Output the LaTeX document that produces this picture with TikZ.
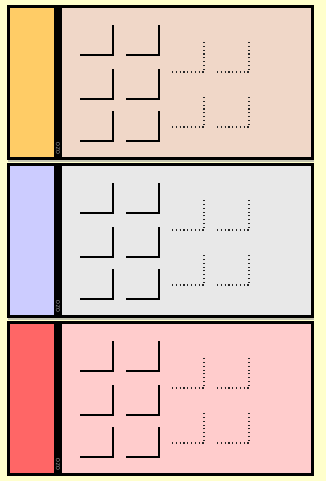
\documentclass[tikz,border=0pt]{standalone}
\usepackage{tikz}

\definecolor{bgyellow}{HTML}{FFFFCC}
\definecolor{stripA}{HTML}{FFCC66}
\definecolor{mainA}{HTML}{F0D7C8}
\definecolor{stripB}{HTML}{CCCCFF}
\definecolor{mainB}{HTML}{E8E8E8}
\definecolor{stripC}{HTML}{FF6666}
\definecolor{mainC}{HTML}{FFCCCC}
\definecolor{gapgray}{HTML}{C4C4B0}

\tikzset{
  corner/.style={line width=1.8pt, line cap=butt},
  dotcorner/.style={line width=1.3pt, dash pattern=on 1.1pt off 2.7pt, black!85},
  panelframe/.style={line width=3pt},
  tinylabel/.style={font=\fontsize{5.5}{5.5}\selectfont\sffamily, text=black!40, inner sep=0pt, rotate=90}
}

\begin{document}
\begin{tikzpicture}[x=1pt, y=-1pt]
    % ===== SFONDO =====
    \fill[bgyellow] (0,0) rectangle (326,481);
    \useasboundingbox (0,0) rectangle (326,481);
    \fill[gapgray] (8,160) rectangle (314,162);
    \fill[gapgray] (8,318) rectangle (314,320);

    % ===== PANNELLI =====
    \foreach \i/\stripcol/\maincol in {0/stripA/mainA, 1/stripB/mainB, 2/stripC/mainC} {
        \begin{scope}[yshift=-\i*158pt]
            % fasce colorate
            \fill[\stripcol] (10,8) rectangle (54,157);
            \fill[\maincol] (62,8) rectangle (311,157);
            \fill[black] (54,8) rectangle (62,157);
            \draw[panelframe] (8.5,6.5) rectangle (312.5,158.5);

            \node[tinylabel, anchor=west] (tag\i) at (58,155) {OZO};

            % angoli pieni
            \foreach \xe in {113, 159} {
                \foreach \yb in {55, 99, 141} {
                    \draw[corner] (\xe-33, \yb) -- (\xe, \yb) -- (\xe, \yb-30);
                }
            }

            % angoli punteggiati
            \foreach \xe in {204, 249} {
                \foreach \yb in {72, 127} {
                    \draw[dotcorner] (\xe-32, \yb) -- (\xe, \yb) -- (\xe, \yb-31);
                }
            }
        \end{scope}
    }
\end{tikzpicture}
\end{document}
